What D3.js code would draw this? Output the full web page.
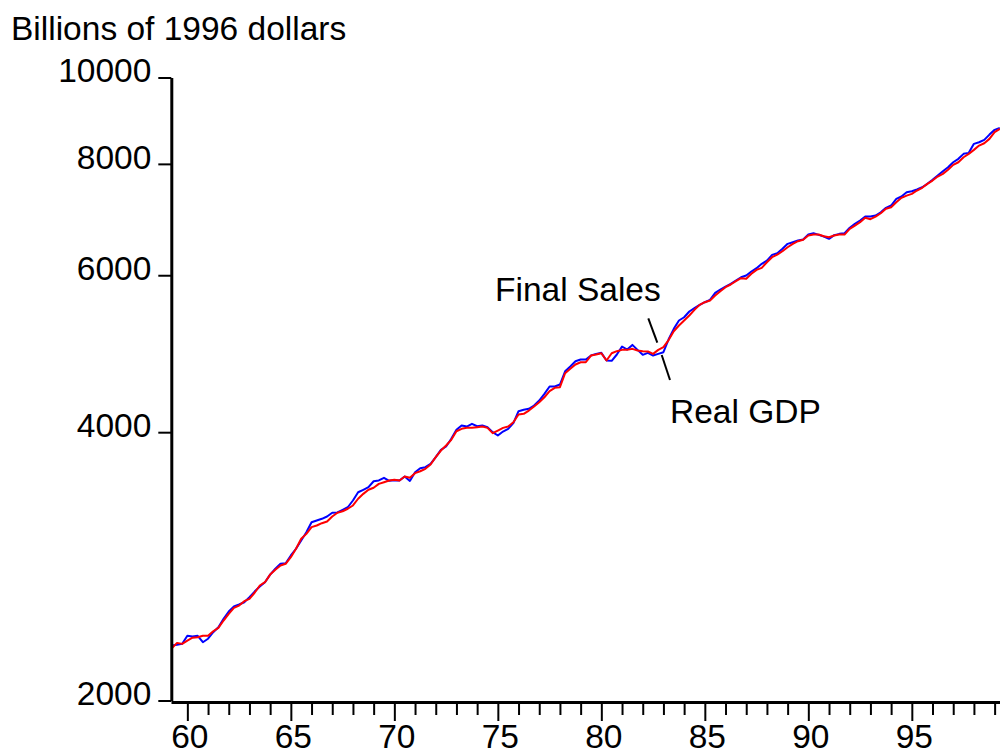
<!DOCTYPE html>
<html>
<head>
<meta charset="utf-8">
<script src="https://cdn.jsdelivr.net/npm/d3@7"></script>
<style>
  body { margin: 0; background: #fff; }
  svg { display: block; }
</style>
</head>
<body>
<svg id="chart" width="1000" height="753"></svg>
<script>
// ---------- DATA (billions of chained 1996 dollars, quarterly, 1959Q2 - 1999Q2) ----------
const startYear = 1959;
const startQuarter = 2;

const realGDP = [
  2305,2310,2316,2364,2360,2364,2325,2346,2386,2417,
  2470,2517,2550,2563,2578,2612,2650,2685,2715,2769,
  2811,2847,2851,2909,2960,3024,3089,3170,3184,3198,
  3217,3248,3251,3273,3295,3353,3425,3447,3470,3524,
  3531,3555,3528,3534,3530,3567,3527,3607,3645,3654,
  3686,3750,3822,3855,3932,4025,4070,4059,4087,4062,
  4070,4052,4000,3966,4007,4035,4094,4223,4238,4249,
  4285,4341,4417,4501,4501,4524,4682,4740,4805,4826,
  4826,4876,4897,4910,4814,4810,4889,4991,4952,5012,
  4948,4885,4910,4876,4897,4918,5085,5224,5338,5383,
  5463,5510,5558,5596,5631,5733,5783,5827,5868,5919,
  5969,5995,6058,6110,6179,6232,6324,6351,6424,6507,
  6534,6563,6580,6665,6688,6660,6631,6592,6655,6677,
  6688,6782,6852,6911,6982,6982,7000,7060,7141,7184,
  7309,7353,7435,7454,7487,7531,7598,7677,7762,7849,
  7931,8034,8105,8210,8231,8425,8460,8512,8629,8735,
  8780
];

const finalSales = [
  2289,2321,2315,2335,2352,2355,2364,2364,2392,2413,
  2459,2502,2541,2556,2585,2601,2642,2692,2715,2769,
  2803,2835,2847,2896,2960,3037,3076,3130,3143,3162,
  3176,3217,3249,3261,3282,3310,3368,3411,3447,3465,
  3500,3515,3531,3537,3531,3567,3555,3598,3616,3639,
  3680,3750,3815,3865,3922,4010,4035,4045,4045,4052,
  4059,4045,3990,4017,4045,4059,4104,4187,4194,4230,
  4274,4322,4378,4447,4486,4493,4658,4711,4764,4792,
  4792,4876,4889,4905,4814,4905,4931,4948,4948,4961,
  4940,4931,4927,4897,4948,4982,5075,5192,5269,5338,
  5407,5487,5558,5596,5620,5693,5757,5817,5858,5908,
  5954,5945,6022,6084,6116,6205,6286,6329,6384,6450,
  6507,6551,6575,6648,6665,6665,6636,6619,6648,6665,
  6665,6764,6822,6881,6959,6934,6982,7042,7123,7152,
  7245,7328,7371,7404,7468,7520,7598,7663,7742,7796,
  7878,7980,8034,8138,8210,8295,8388,8438,8534,8682,
  8758
];

const yTickValues = [2000, 4000, 6000, 8000, 10000];
const xMajorYears = [1960, 1965, 1970, 1975, 1980, 1985, 1990, 1995];
const xMinorYears = [1961,1962,1963,1964,1966,1967,1968,1969,1971,1972,1973,1974,
                     1976,1977,1978,1979,1981,1982,1983,1984,1986,1987,1988,1989,
                     1991,1992,1993,1994,1996,1997,1998,1999];

const yAxisTitle = "Billions of 1996 dollars";
const labelFinal = "Final Sales";
const labelGDP = "Real GDP";

// quarter time stamps (year + (q-1)/4)
const quarterTimes = realGDP.map((_, i) => {
  const k = (startQuarter - 1) + i;
  return startYear + Math.floor(k / 4) + (k % 4) / 4;
});

// ---------- CHART ----------
const FONT = "'Liberation Sans', Arial, Helvetica, sans-serif";
const FS = 33.5;
const svg = d3.select("#chart");

const x = d3.scaleLinear().domain([1959.21, 1999.26]).range([171, 1000]);
const y = d3.scaleLog().domain([2000, 10000]).range([700.5, 77.5]);

const line = d3.line()
  .x((d, i) => x(quarterTimes[i]))
  .y(d => y(d));

// lines
svg.append("path").datum(realGDP)
  .attr("fill", "none").attr("stroke", "#0000ff").attr("stroke-width", 2)
  .attr("stroke-linejoin", "round").attr("d", line);
svg.append("path").datum(finalSales)
  .attr("fill", "none").attr("stroke", "#ff0000").attr("stroke-width", 2)
  .attr("stroke-linejoin", "round").attr("d", line);

// y axis
const gy = svg.append("g").attr("transform", "translate(171.3,0)")
  .call(d3.axisLeft(y).tickValues(yTickValues).tickFormat(d3.format("d"))
        .tickSize(13).tickSizeOuter(0).tickPadding(7));
gy.attr("font-family", FONT).attr("font-size", FS);
gy.select(".domain").attr("stroke", "#000").attr("stroke-width", 3);
gy.selectAll(".tick line").attr("stroke", "#000").attr("stroke-width", 2);
gy.selectAll(".tick text").attr("fill", "#000").attr("dy", "0.13em");

// x axis: major
const gx = svg.append("g").attr("transform", "translate(0,702)")
  .call(d3.axisBottom(x).tickValues(xMajorYears).tickFormat(d => String(d).slice(2))
        .tickSize(19).tickSizeOuter(0));
gx.attr("font-family", FONT).attr("font-size", FS);
gx.select(".domain").attr("stroke", "#000").attr("stroke-width", 3);
gx.selectAll(".tick line").attr("stroke", "#000").attr("stroke-width", 2);
gx.selectAll(".tick text").attr("fill", "#000").attr("x", 2).attr("y", 46).attr("dy", 0);

// x axis: minor
const gxm = svg.append("g").attr("transform", "translate(0,702)")
  .call(d3.axisBottom(x).tickValues(xMinorYears).tickFormat("")
        .tickSize(13).tickSizeOuter(0));
gxm.select(".domain").remove();
gxm.selectAll(".tick line").attr("stroke", "#000").attr("stroke-width", 2);

// y axis title
svg.append("text").attr("x", 11).attr("y", 40)
  .attr("font-family", FONT).attr("font-size", FS).attr("fill", "#000")
  .text(yAxisTitle);

// annotations
svg.append("text").attr("x", 495).attr("y", 301)
  .attr("font-family", FONT).attr("font-size", FS).attr("fill", "#000")
  .text(labelFinal);
svg.append("line").attr("x1", 648.3).attr("y1", 318.3).attr("x2", 657.3).attr("y2", 342.7)
  .attr("stroke", "#000").attr("stroke-width", 2);

svg.append("text").attr("x", 670).attr("y", 423)
  .attr("font-family", FONT).attr("font-size", FS).attr("fill", "#000")
  .text(labelGDP);
svg.append("line").attr("x1", 661.7).attr("y1", 355).attr("x2", 670).attr("y2", 380)
  .attr("stroke", "#000").attr("stroke-width", 2);
</script>
</body>
</html>
